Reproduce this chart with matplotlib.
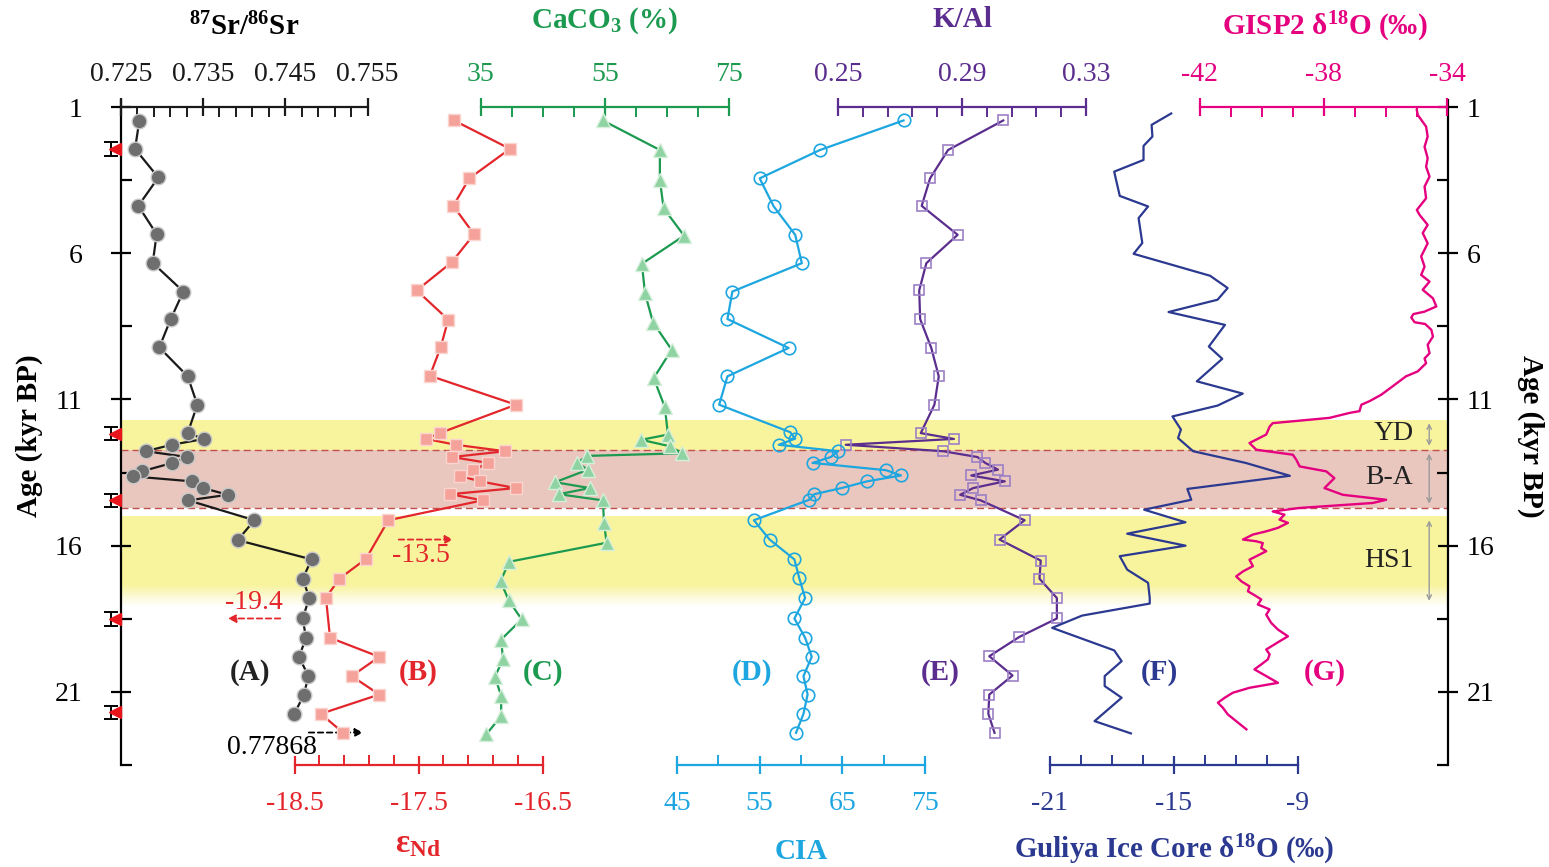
import matplotlib
matplotlib.use('Agg')
import matplotlib.pyplot as plt
import numpy as np
from matplotlib.ticker import FixedLocator

plt.rcParams['font.family'] = ['Liberation Serif', 'DejaVu Serif']
plt.rcParams['mathtext.fontset'] = 'custom'
plt.rcParams['mathtext.rm'] = 'Liberation Serif'
plt.rcParams['mathtext.bf'] = 'Liberation Serif:bold'
plt.rcParams['mathtext.it'] = 'Liberation Serif:italic'

# ---------------- data ----------------
sr_age = [1.48, 2.43, 3.41, 4.38, 5.35, 6.33, 7.31, 8.25, 9.22, 10.21, 11.18, 12.15, 12.35, 12.55,
          12.77, 12.97, 13.17, 13.46, 13.63, 13.80, 14.03, 14.26, 14.45, 15.13, 15.81, 16.47, 17.13,
          17.78, 18.49, 19.15, 19.80, 20.46, 21.09, 21.75]
sr_val = [0.72726, 0.72674, 0.72957, 0.72714, 0.72937, 0.72889, 0.73261, 0.73108, 0.72969, 0.73314,
          0.73431, 0.73314, 0.73512, 0.73120, 0.72804, 0.73310, 0.73127, 0.72755, 0.72646, 0.73363,
          0.73504, 0.73800, 0.73322, 0.74124, 0.73922, 0.74820, 0.74711, 0.74792, 0.74711, 0.74752,
          0.74667, 0.74780, 0.74727, 0.74610]

nd_age = [1.46, 2.43, 3.44, 4.38, 5.35, 6.31, 7.27, 8.27, 9.22, 10.19, 11.18, 12.15, 12.35, 12.55,
          12.77, 12.97, 13.17, 13.42, 13.61, 13.80, 14.03, 14.24, 14.45, 15.13, 16.45, 17.13, 17.78,
          19.15, 19.80, 20.46, 21.09, 21.75, 22.40]
nd_val = [-17.215, -16.764, -17.092, -17.221, -17.054, -17.234, -17.516, -17.262, -17.323, -17.410,
          -16.716, -17.330, -17.440, -17.200, -16.804, -17.230, -16.940, -17.060, -17.170, -17.006,
          -16.718, -17.244, -16.985, -17.745, -17.925, -18.140, -18.248, -18.215, -17.818, -18.040,
          -17.818, -18.290, -18.108]

ca_age = [1.46, 2.47, 3.49, 4.46, 5.40, 6.36, 7.37, 8.37, 9.30, 10.27, 11.26, 12.20, 12.38, 12.60,
          12.84, 12.93, 13.17, 13.40, 13.83, 14.03, 14.24, 14.45, 15.22, 15.90, 16.55, 17.21, 17.86,
          18.52, 19.21, 19.89, 20.48, 21.14, 21.83, 22.45]
ca_val = [54.7, 63.9, 63.9, 64.5, 67.8, 61.0, 61.5, 62.8, 65.8, 62.9, 64.7, 65.2, 60.9, 65.5, 67.5,
          52.2, 50.5, 52.3, 47.0, 52.6, 47.6, 54.7, 54.9, 55.3, 39.6, 38.2, 39.5, 41.6, 38.3, 38.6,
          37.3, 38.3, 38.3, 35.9]

cia_age = [1.46, 2.47, 3.44, 4.40, 5.37, 6.34, 7.31, 8.25, 9.24, 10.21, 11.18, 12.12, 12.34, 12.55,
           12.77, 12.97, 13.17, 13.42, 13.60, 13.80, 14.03, 14.24, 14.43, 15.13, 15.79, 16.47, 17.12,
           17.79, 18.49, 19.15, 19.80, 20.46, 21.09, 21.75, 22.40]
cia_val = [72.4, 62.3, 55.0, 56.7, 59.3, 60.1, 51.7, 51.1, 58.5, 51.1, 50.1, 58.7, 59.3, 57.3, 64.5,
           63.6, 61.4, 70.3, 72.1, 68.0, 64.9, 61.6, 61.0, 54.3, 56.2, 59.2, 59.8, 60.5, 59.2, 60.5,
           61.3, 60.3, 60.8, 60.3, 59.4]

kal_age = [1.46, 2.47, 3.44, 4.38, 5.37, 6.34, 7.27, 8.25, 9.24, 10.21, 11.18, 12.15, 12.35, 12.55,
           12.77, 12.97, 13.17, 13.40, 13.60, 13.80, 14.03, 14.26, 14.45, 15.13, 15.79, 16.51, 17.13,
           17.79, 18.49, 19.12, 19.78, 20.44, 21.09, 21.75, 22.40]
kal_val = [0.3033, 0.2855, 0.2797, 0.2770, 0.2886, 0.2785, 0.2762, 0.2765, 0.2801, 0.2825, 0.2811,
           0.2767, 0.2874, 0.2525, 0.2839, 0.2950, 0.2975, 0.3016, 0.2930, 0.3038, 0.2936, 0.2894,
           0.2960, 0.3102, 0.3021, 0.3154, 0.3150, 0.3206, 0.3206, 0.3085, 0.2988, 0.3063, 0.2988,
           0.2985, 0.3005]

gul_age = [1.22, 1.61, 2.01, 2.33, 2.81, 3.21, 4.04, 4.40, 4.80, 5.65, 6.02, 6.77, 7.19, 7.59, 8.01,
           8.45, 9.19, 9.61, 10.38, 10.80, 11.21, 11.58, 12.03, 12.32, 12.77, 13.17, 13.61, 14.06,
           14.43, 14.77, 15.20, 15.59, 16.00, 16.36, 16.82, 17.27, 17.79, 17.98, 18.39, 18.81, 19.58,
           19.95, 20.46, 20.80, 21.20, 22.00, 22.42]
gul_val = [-15.11, -16.06, -16.02, -16.45, -16.45, -17.87, -17.60, -16.23, -16.69, -16.51, -16.93,
           -13.23, -12.38, -12.87, -15.24, -12.51, -13.29, -12.64, -13.87, -11.65, -12.87, -15.05,
           -14.64, -14.78, -14.05, -11.51, -9.37, -14.33, -14.14, -16.42, -14.42, -17.24, -14.42,
           -17.60, -17.24, -16.23, -16.15, -16.15, -19.42, -20.87, -17.87, -17.51, -18.33, -18.33,
           -17.51, -18.82, -17.06]

gisp_age = [1.10, 1.27, 1.67, 2.01, 2.36, 2.75, 3.04, 3.38, 3.72, 4.12, 4.52, 4.69, 5.03, 5.31, 5.66,
            6.11, 6.46, 6.74, 6.97, 7.25, 7.54, 7.82, 8.00, 8.08, 8.20, 8.36, 8.42, 8.62, 8.85, 9.13,
            9.42, 9.60, 9.76, 10.04, 10.21, 10.55, 10.84, 11.06, 11.18, 11.40, 11.46, 11.63, 11.81,
            11.93, 12.20, 12.49, 12.72, 12.89, 13.06, 13.29, 13.46, 13.69, 14.03, 14.26, 14.43, 14.54,
            14.71, 14.83, 14.94, 15.11, 15.22, 15.39, 15.51, 15.62, 15.79, 15.85, 15.91, 16.08, 16.19,
            16.36, 16.48, 16.70, 16.88, 17.05, 17.22, 17.39, 17.56, 17.73, 17.84, 18.01, 18.18, 18.36,
            18.64, 18.87, 19.10, 19.27, 19.55, 19.72, 19.89, 20.06, 20.23, 20.46, 20.69, 20.86, 21.03,
            21.20, 21.37, 21.54, 21.77, 22.00, 22.28]
gisp_val = [-34.99, -34.96, -34.69, -34.64, -34.74, -34.64, -34.69, -34.58, -34.74, -34.69, -34.99,
            -34.90, -34.64, -34.80, -34.64, -34.85, -34.74, -34.85, -34.58, -34.80, -34.47, -34.36,
            -34.75, -35.10, -35.17, -35.06, -34.72, -34.52, -34.47, -34.64, -34.58, -34.74, -34.69,
            -34.96, -35.34, -35.77, -36.14, -36.52, -36.78, -36.84, -37.16, -37.81, -39.64, -39.74,
            -39.85, -40.39, -40.17, -38.99, -38.88, -38.77, -37.91, -37.65, -37.97, -37.38, -35.98,
            -36.41, -38.77, -39.64, -39.26, -39.42, -39.15, -39.47, -39.85, -40.28, -40.60, -40.17,
            -39.96, -40.01, -39.85, -40.17, -40.39, -40.28, -40.60, -40.82, -40.65, -40.39, -40.44,
            -40.17, -40.01, -40.12, -39.74, -39.85, -39.69, -39.47, -39.15, -39.42, -39.85, -39.74,
            -39.80, -40.01, -40.23, -39.85, -39.47, -40.39, -40.93, -41.19, -41.41, -41.25, -41.09,
            -40.82, -40.49]

date_age = [2.43, 12.17, 14.45, 18.50, 21.70]

age_ticks = [1, 6, 11, 16, 21]
sr_ticks = [0.725, 0.735, 0.745, 0.755]
nd_ticks = [-18.5, -17.5, -16.5]
ca_ticks = [35, 55, 75]
cia_ticks = [45, 55, 65, 75]
kal_ticks = [0.25, 0.29, 0.33]
gul_ticks = [-21, -15, -9]
gisp_ticks = [-42, -38, -34]

# ---------------- layout ----------------
W, H = 1549, 867
fig = plt.figure(figsize=(W / 100, H / 100), dpi=100)
L, R, T, B = 120.7, 1447.5, 100.0, 765.0
ax = fig.add_axes([L / W, 1 - B / H, (R - L) / W, (B - T) / H])
AGE_BOT, AGE_TOP = 23.5, 0.76
ax.set_ylim(AGE_BOT, AGE_TOP)
ax.set_xlim(0, 1)


def ft(xpx, ypx, s, **kw):
    return fig.text(xpx / W, 1 - ypx / H, s, **kw)


def xlim_for(v0, p0, s):
    return (v0 - (p0 - L) / s, v0 + (R - p0) / s)


C_SR, C_ND, C_CA = '#1a1a1a', '#E3262B', '#1B9A50'
C_CIA, C_KAL, C_GUL, C_GI = '#1DA6DF', '#5B2D8E', '#2B3990', '#E4007F'
YEL, PINK = '#F8F49E', '#E9C7BE'

# shading
ax.axhspan(11.69, 12.72, color=YEL, lw=0, zorder=0)
ax.axhspan(12.72, 14.70, color=PINK, lw=0, zorder=0)
ax.axhspan(15.00, 17.35, color=YEL, lw=0, zorder=0)
n = 20
edges = np.linspace(17.35, 18.05, n + 1)
for i in range(n):
    ax.axhspan(edges[i], edges[i + 1], color=YEL, alpha=1 - (i + 0.5) / n, lw=0, zorder=0)
for yy in (12.72, 14.70):
    ax.axhline(yy, color='#C0504D', ls=(0, (5, 3)), lw=1.0, zorder=1)

# main axis (left)
for k in ('top', 'bottom', 'right'):
    ax.spines[k].set_visible(False)
ax.spines['left'].set_linewidth(1.6)
ax.set_xticks([])
ax.set_yticks(age_ticks)
ax.set_yticklabels([str(a) for a in age_ticks])
ax.yaxis.set_minor_locator(FixedLocator([3.5, 8.5, 13.5, 18.5, 23.5]))
ax.tick_params(axis='y', which='major', direction='inout', length=15, width=1.6, labelsize=20, pad=20)
ax.tick_params(axis='y', which='minor', direction='in', length=8, width=1.6)

axr = ax.twinx()
axr.set_ylim(AGE_BOT, AGE_TOP)
for k in ('top', 'bottom', 'left'):
    axr.spines[k].set_visible(False)
axr.spines['right'].set_linewidth(1.6)
axr.set_yticks(age_ticks)
axr.set_yticklabels([str(a) for a in age_ticks])
axr.yaxis.set_minor_locator(FixedLocator([3.5, 8.5, 13.5, 18.5, 23.5]))
axr.tick_params(axis='y', which='major', direction='inout', length=15, width=1.6, labelsize=20, pad=6)
axr.tick_params(axis='y', which='minor', direction='in', length=8, width=1.6)


def scale_axis(side, xlim, ticks, labels, minors, color):
    t = ax.twiny()
    t.set_xlim(*xlim)
    t.set_ylim(AGE_BOT, AGE_TOP)
    for k, sp in t.spines.items():
        sp.set_visible(k == side)
    sp = t.spines[side]
    sp.set_bounds(ticks[0], ticks[-1])
    sp.set_color(color)
    sp.set_linewidth(1.6)
    if side == 'top':
        sp.set_position(('data', 1.0))
    t.xaxis.set_ticks_position(side)
    t.set_xticks(ticks)
    t.set_xticklabels(labels)
    t.xaxis.set_minor_locator(FixedLocator(minors))
    t.tick_params(axis='x', which='major', direction='inout', length=13, width=1.6,
                  colors=color, labelsize=20, pad=8.0 if side == 'top' else 12.5)
    t.tick_params(axis='x', which='minor', direction='in', length=7, width=1.4, color=color)
    t.tick_params(axis='y', left=False, right=False, labelleft=False, labelright=False)
    return t


ax_sr = scale_axis('top', xlim_for(0.725, 120.7, 8230.0), sr_ticks, ['0.725', '0.735', '0.745', '0.755'],
                   np.arange(0.727, 0.755, 0.002), C_SR)
ax_ca = scale_axis('top', xlim_for(35, 480.7, 6.2), ca_ticks, ['35', '55', '75'],
                   np.arange(40, 75, 5), C_CA)
ax_kal = scale_axis('top', xlim_for(0.25, 838.0, 3100.0), kal_ticks, ['0.25', '0.29', '0.33'],
                    np.arange(0.258, 0.33, 0.008), C_KAL)
ax_gi = scale_axis('top', xlim_for(-42, 1200.0, 31.0), gisp_ticks, ['-42', '-38', '-34'],
                   np.arange(-41, -34, 1), C_GI)
ax_nd = scale_axis('bottom', xlim_for(-18.5, 294.7, 124.0), nd_ticks, ['-18.5', '-17.5', '-16.5'],
                   np.arange(-18.3, -16.6, 0.2), C_ND)
ax_cia = scale_axis('bottom', xlim_for(45, 677.0, 248.0 / 30), cia_ticks, ['45', '55', '65', '75'],
                    [50, 60, 70], C_CIA)
ax_gul = scale_axis('bottom', xlim_for(-21, 1049.5, 124.0 / 6), gul_ticks, ['-21', '-15', '-9'],
                    np.arange(-19.5, -9.5, 1.5), C_GUL)

# series
ax_sr.plot(sr_val, sr_age, color=C_SR, lw=1.6, marker='o', ms=10.5, mfc='#6E6E6E', mec='#C8C8C8',
           mew=1.0, zorder=3)
ax_nd.plot(nd_val, nd_age, color=C_ND, lw=1.6, marker='s', ms=8.5, mfc='#F5A29A', mec='#FBD5CF',
           mew=1.0, zorder=3)
ax_ca.plot(ca_val, ca_age, color=C_CA, lw=1.6, marker='^', ms=10, mfc='#8FD3A2', mec='#D5EFDB',
           mew=1.0, zorder=3)
ax_cia.plot(cia_val, cia_age, color=C_CIA, lw=1.6, marker='o', ms=9, mfc='none', mec=C_CIA,
            mew=1.2, zorder=3)
ax_kal.plot(kal_val, kal_age, color=C_KAL, lw=1.6, marker='s', ms=7, mfc='none', mec='#9C80C6',
            mew=1.2, zorder=3)
ax_gul.plot(gul_val, gul_age, color=C_GUL, lw=1.6, zorder=3)
ax_gi.plot(gisp_val, gisp_age, color=C_GI, lw=1.7, zorder=3)

# dating markers on the left spine
ax_d = ax.twiny()
ax_d.set_xlim(0, 1)
ax_d.set_ylim(AGE_BOT, AGE_TOP)
ax_d.axis('off')
eb = ax_d.errorbar([-0.0075] * len(date_age), date_age, yerr=0.23, fmt='none', ecolor='k',
                   elinewidth=1.4, capsize=5, capthick=1.4)
for art in eb.get_children():
    art.set_clip_on(False)
ax_d.plot([-0.004] * len(date_age), date_age, ls='none', marker='<', ms=9, color='#E8141B',
          clip_on=False, zorder=4)

# off-scale annotations
arrow_kw = dict(arrowstyle='-|>', ls=(0, (3, 2)), lw=1.3, mutation_scale=12)
ax_nd.annotate('', xy=(-17.199, 15.79), xytext=(-17.683, 15.79),
               arrowprops=dict(color=C_ND, **arrow_kw))
ax_nd.text(-17.48, 16.35, '-13.5', color=C_ND, fontsize=20, ha='center', va='center')
ax_nd.annotate('', xy=(-19.062, 18.49), xytext=(-18.594, 18.49),
               arrowprops=dict(color=C_ND, **arrow_kw))
ax_nd.text(-18.827, 17.95, '-19.4', color=C_ND, fontsize=20, ha='center', va='center')
ax_sr.annotate('', xy=(0.75480, 22.39), xytext=(0.74752, 22.39),
               arrowprops=dict(color='k', **arrow_kw))
ax_sr.text(0.74338, 22.9, '0.77868', color='k', fontsize=20, ha='center', va='center')

# event labels and arrows
for (a0, a1, lab, ylab) in [(11.72, 12.68, 'YD', 12.18), (12.76, 14.66, 'B-A', 13.66),
                            (15.04, 17.98, 'HS1', 16.52)]:
    ax_d.annotate('', xy=(0.9862, a0), xytext=(0.9862, a1),
                  arrowprops=dict(arrowstyle='<->', color='#9A9A9A', lw=1.0, mutation_scale=8))
    ax_d.text(0.9562 if lab != 'YD' else 0.9595, ylab, lab, fontsize=20, ha='center', va='center',
              color='#222222')

# titles
ft(244, 35, r'$^{\mathbf{87}}$Sr/$^{\mathbf{86}}$Sr', fontsize=21, fontweight='bold', ha='center',
   va='baseline', color='k')
ft(605, 28, r'CaCO$_{\mathbf{3}}$ (%)', fontsize=21, fontweight='bold', ha='center', va='baseline',
   color=C_CA)
ft(962, 27, 'K/Al', fontsize=21, fontweight='bold', ha='center', va='baseline', color=C_KAL)
ft(1325, 35, r'GISP2 δ$^{\mathbf{18}}$O (‰)', fontsize=21, fontweight='bold', ha='center',
   va='baseline', color=C_GI)
ft(418, 852, r'ε$_{\mathbf{Nd}}$', fontsize=24, fontweight='bold', ha='center', va='baseline',
   color=C_ND)
ft(801, 859, 'CIA', fontsize=21, fontweight='bold', ha='center', va='baseline', color=C_CIA)
ft(1174, 858, r'Guliya Ice Core δ$^{\mathbf{18}}$O (‰)', fontsize=21, fontweight='bold',
   ha='center', va='baseline', color=C_GUL)

ft(29, 436, 'Age (kyr BP)', fontsize=21, fontweight='bold', rotation=90, ha='center', va='center')
ft(1531, 436, 'Age (kyr BP)', fontsize=21, fontweight='bold', rotation=270, ha='center', va='center')

for xp, lab, col in [(250, '(A)', '#222222'), (418, '(B)', C_ND), (543, '(C)', C_CA),
                     (752, '(D)', C_CIA), (940, '(E)', C_KAL), (1159, '(F)', C_GUL),
                     (1325, '(G)', C_GI)]:
    ft(xp, 673, lab, fontsize=21, fontweight='bold', ha='center', va='center', color=col)

fig.savefig('out.png', dpi=100)
